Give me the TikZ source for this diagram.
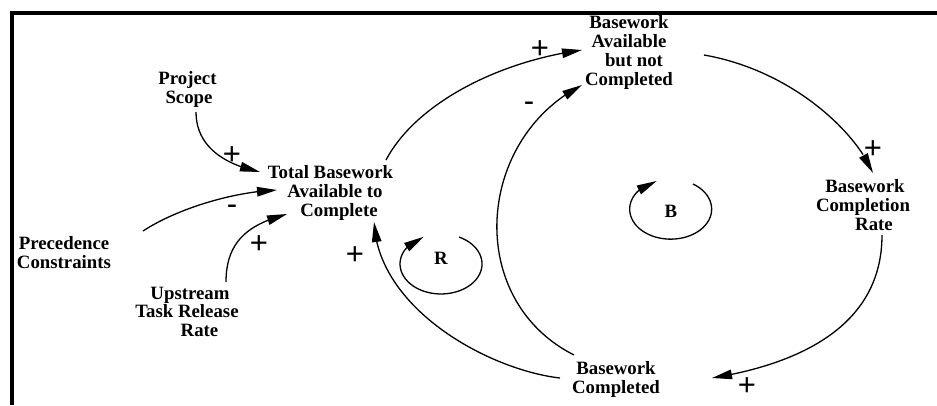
\documentclass[tikz,border=0pt]{standalone}
\usepackage{fontspec}
\setmainfont{Liberation Serif}
\newfontfamily\signfont{Liberation Sans}
\usetikzlibrary{arrows.meta,bending}

\tikzset{
  var/.style={font=\fontsize{18.8pt}{18.9pt}\selectfont\bfseries, align=center, inner sep=0pt, anchor=north},
  looplbl/.style={font=\fontsize{18.8pt}{18.9pt}\selectfont\bfseries, inner sep=0pt, anchor=base},
  polarity/.style={font=\fontsize{31pt}{31pt}\selectfont\signfont, inner sep=0pt, anchor=base},
  link/.style={line width=1.3pt, -{Triangle[length=20pt,width=9.5pt,flex]}},
  frame/.style={line width=4pt, line join=miter}
}

\begin{document}
\begin{tikzpicture}[x=1pt, y=-1pt]
\useasboundingbox (0,0) rectangle (937,405);

% open frame along the top and left edges
\draw[frame] (12,405) -- (12,13) -- (937,13);

% variables
\node[var] (ps) at (187.5,71.5) {Project\\\hspace*{3pt}Scope};
\node[var] (tb) at (330.5,165.5) {Total Basework\\\hspace*{9pt}Available to\\\hspace*{17pt}Complete};
\node[var] (pc) at (64,236.5) {Precedence\\Constraints};
\node[var] (up) at (187,286.5) {\hspace*{6pt}Upstream\\Task Release\\\hspace*{25pt}Rate};
\node[var] (ba) at (629,15.5) {Basework\\Available\\\hspace*{10pt}but not\\Completed};
\node[var] (cr) at (863,179.5) {\hspace*{4pt}Basework\\Completion\\\hspace*{22pt}Rate};
\node[var] (bc) at (616,361.5) {Basework\\Completed};

% loop identifiers
\node[looplbl] (rl) at (441,264) {R};
\node[looplbl] (bl) at (671,217) {B};

% causal links
\draw[link] ([shift={(8.5,40.5)}]ps.north) .. controls (196,145) and (222,164) .. ([shift={(-70.5,6.5)}]tb.north);
\draw[link] ([shift={(79,-5.5)}]pc.north) .. controls (175,210) and (230,192) .. ([shift={(-53.5,24.5)}]tb.north);
\draw[link] ([shift={(39,-4.5)}]up.north) .. controls (226,240) and (250,224) .. ([shift={(-43.5,48.5)}]tb.north);
\draw[link] ([shift={(-56,16.5)}]bc.north) .. controls (490,370) and (378,310) .. ([shift={(43.5,56.5)}]tb.north);
\draw[link] ([shift={(55.5,-5.5)}]tb.north) .. controls (415,105) and (495,62) .. ([shift={(-47,34.5)}]ba.north);
\draw[link] ([shift={(75,39.5)}]ba.north) .. controls (790,70) and (855,130) .. ([shift={(10,-6.5)}]cr.north);
\draw[link] ([shift={(19,55.5)}]cr.north) .. controls (882,320) and (810,362) .. ([shift={(96,16.5)}]bc.north);
\draw[link] ([shift={(-42,-6.5)}]bc.north) .. controls (465,300) and (475,140) .. ([shift={(-47,69.5)}]ba.north);

% loop arrows around R and B
\draw[link] ([shift={(18,-27)}]rl.base) coordinate (rs) arc[start angle=-64, end angle=245, x radius=41, y radius=30];
\draw[link] ([shift={(22,-33)}]bl.base) coordinate (bs) arc[start angle=-57, end angle=250, x radius=41, y radius=30];

% link polarities
\node[polarity] (p1) at (232,164.9) {+};
\node[polarity] (p2) at (232,214) {-};
\node[polarity] (p3) at (259,253.9) {+};
\node[polarity] (p4) at (355,264.9) {+};
\node[polarity] (p5) at (540,58.9) {+};
\node[polarity] (p6) at (529,111) {-};
\node[polarity] (p7) at (873,158.9) {+};
\node[polarity] (p8) at (747,395.9) {+};
\end{tikzpicture}
\end{document}
